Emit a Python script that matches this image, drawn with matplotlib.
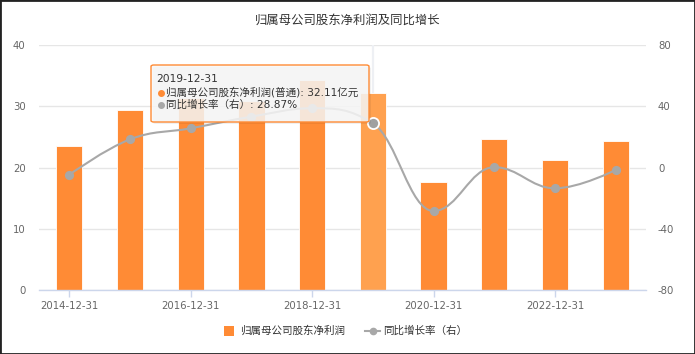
import matplotlib
matplotlib.use('Agg')
import matplotlib.pyplot as plt
from matplotlib.path import Path
from matplotlib.patches import PathPatch, FancyBboxPatch, Rectangle
from matplotlib.lines import Line2D

plt.rcParams['font.family'] = ['DejaVu Sans', 'Noto Sans CJK SC']

# ---------------- data ----------------
categories = ['2014-12-31', '2015-12-31', '2016-12-31', '2017-12-31', '2018-12-31',
              '2019-12-31', '2020-12-31', '2021-12-31', '2022-12-31', '2023-12-31']
profit = [23.5, 29.4, 31.3, 30.9, 34.3, 32.11, 17.7, 24.7, 21.3, 24.4]
growth = [-4.7, 18.4, 25.6, 33.2, 38.7, 28.87, -28.4, 0.2, -13.6, -1.6]
left_ticks = [0, 10, 20, 30, 40]
right_ticks = [-80, -40, 0, 40, 80]
title = '归属母公司股东净利润及同比增长'
bar_name = '归属母公司股东净利润'
line_name = '同比增长率（右）'
tooltip_bar_name = '归属母公司股东净利润(普通)'
tooltip_unit = '亿元'
hover_index = 5

# ---------------- style ----------------
W, H = 695, 354
BAR = '#ff8b35'
BAR_HOVER = '#ffa14f'
LINE = '#a8a8a8'
GRID = '#e6e6e6'
AXIS = '#ccd6eb'
LABEL = '#666666'

fig = plt.figure(figsize=(W / 100, H / 100), dpi=100)
ax = fig.add_axes([39 / W, 1 - 290 / H, 607 / W, 245 / H])
x = list(range(len(categories)))
ax.set_xlim(-0.5, len(categories) - 0.5)
ax.set_ylim(left_ticks[0], left_ticks[-1])

# crosshair
ax.axvline(hover_index, color='#eef0f4', lw=1.6, zorder=1)

colors = [BAR_HOVER if i == hover_index else BAR for i in x]
ax.bar(x, profit, width=0.43, color=colors, edgecolor='white', linewidth=0.6, zorder=2)

ax.set_yticks(left_ticks)
ax.yaxis.grid(True, color=GRID, lw=1, zorder=0)
ax.set_axisbelow(True)
for s in ['top', 'left', 'right']:
    ax.spines[s].set_visible(False)
ax.spines['bottom'].set_color(AXIS)
ax.spines['bottom'].set_linewidth(1)
ax.spines['bottom'].set_zorder(3)
ax.set_xticks(x[::2])
ax.set_xticklabels(categories[::2])
ax.tick_params(axis='x', length=5, width=1, color=AXIS, labelcolor=LABEL, labelsize=7.3, pad=3)
ax.tick_params(axis='y', length=0, labelcolor=LABEL, labelsize=7.3, pad=9.5)

ax2 = ax.twinx()
ax2.set_ylim(right_ticks[0], right_ticks[-1])
ax2.set_yticks(right_ticks)
ax2.set_yticklabels([str(t) for t in right_ticks])
for s in ['top', 'left', 'right', 'bottom']:
    ax2.spines[s].set_visible(False)
ax2.tick_params(axis='y', length=0, labelcolor=LABEL, labelsize=7.3, pad=8.6)

# spline (Highcharts-style cubic Bezier through the data points)
def spline_path(xs, ys, smoothing=1.5):
    denom = smoothing + 1
    n = len(xs)
    right = [None] * n
    left = [None] * n
    for i in range(1, n - 1):
        px, py = xs[i], ys[i]
        lx, ly = xs[i - 1], ys[i - 1]
        nx, ny = xs[i + 1], ys[i + 1]
        lcx = (smoothing * px + lx) / denom
        lcy = (smoothing * py + ly) / denom
        rcx = (smoothing * px + nx) / denom
        rcy = (smoothing * py + ny) / denom
        corr = 0
        if rcx != lcx:
            corr = ((rcy - lcy) * (rcx - px)) / (rcx - lcx) + py - rcy
        lcy += corr
        rcy += corr
        if lcy > ly and lcy > py:
            lcy = max(ly, py); rcy = 2 * py - lcy
        elif lcy < ly and lcy < py:
            lcy = min(ly, py); rcy = 2 * py - lcy
        if rcy > ny and rcy > py:
            rcy = max(ny, py); lcy = 2 * py - rcy
        elif rcy < ny and rcy < py:
            rcy = min(ny, py); lcy = 2 * py - rcy
        left[i] = (lcx, lcy)
        right[i] = (rcx, rcy)
    verts = [(xs[0], ys[0])]
    codes = [Path.MOVETO]
    for i in range(1, n):
        c1 = right[i - 1] if right[i - 1] else (xs[i - 1], ys[i - 1])
        c2 = left[i] if left[i] else (xs[i], ys[i])
        verts += [c1, c2, (xs[i], ys[i])]
        codes += [Path.CURVE4] * 3
    return Path(verts, codes)

ax2.add_patch(PathPatch(spline_path(x, growth), fc='none', ec=LINE, lw=1.5, zorder=3,
                        capstyle='round', joinstyle='round'))
mx = [xi for xi in x if xi != hover_index]
my = [growth[xi] for xi in mx]
ax2.plot(mx, my, ls='none', marker='o', ms=5.6, mfc=LINE, mec=LINE, zorder=4)
ax2.plot([hover_index], [growth[hover_index]], ls='none', marker='o', ms=8, mfc='#a0a0a0',
         mec='white', mew=1.3, zorder=5)

# title
fig.text(0.5, 1 - 20 / H, title, ha='center', va='center', fontsize=8.9, color='#333333')

# legend (manual)
def fx(px):
    return px / W

def fy(py):
    return 1 - py / H

fig.add_artist(Rectangle((fx(224), fy(336)), 10 / W, 10 / H, transform=fig.transFigure,
                         fc=BAR, ec='none'))
fig.text(fx(240), fy(331), bar_name, ha='left', va='center', fontsize=7.6, color='#333333')
fig.add_artist(Line2D([fx(365), fx(380)], [fy(331), fy(331)], transform=fig.transFigure,
                      color=LINE, lw=1.5))
fig.add_artist(Line2D([fx(372.5)], [fy(331)], transform=fig.transFigure, ls='none',
                      marker='o', ms=4.5, mfc=LINE, mec=LINE))
fig.text(fx(383), fy(331), line_name, ha='left', va='center', fontsize=7.6, color='#333333')

# tooltip
shadow = FancyBboxPatch((fx(153), fy(124)), 218 / W, 57 / H,
                        boxstyle='round,pad=0,rounding_size=0.004', transform=fig.transFigure,
                        fc=(0, 0, 0, 0.06), ec='none')
fig.add_artist(shadow)
box = FancyBboxPatch((fx(151), fy(122)), 218 / W, 57 / H,
                     boxstyle='round,pad=0,rounding_size=0.004', transform=fig.transFigure,
                     fc=(0.97, 0.97, 0.97, 0.85), ec=BAR, lw=1)
fig.add_artist(box)
fig.text(fx(156), fy(79), categories[hover_index], ha='left', va='center', fontsize=7.7,
         color='#333333')
fig.add_artist(Line2D([fx(161)], [fy(92.5)], transform=fig.transFigure, ls='none',
                      marker='o', ms=4, mfc=BAR, mec=BAR))
fig.text(fx(166), fy(92.5), f'{tooltip_bar_name}: {profit[hover_index]:.2f}{tooltip_unit}',
         ha='left', va='center', fontsize=7.6, color='#333333')
fig.add_artist(Line2D([fx(161)], [fy(105)], transform=fig.transFigure, ls='none',
                      marker='o', ms=4, mfc=LINE, mec=LINE))
fig.text(fx(166), fy(105), f'{line_name}: {growth[hover_index]:.2f}%',
         ha='left', va='center', fontsize=7.6, color='#333333')

# outer frame
fig.add_artist(Rectangle((0, 0), 1, 1, transform=fig.transFigure, fill=False,
                         ec='#222222', lw=2))

fig.savefig('out.png', dpi=100)
